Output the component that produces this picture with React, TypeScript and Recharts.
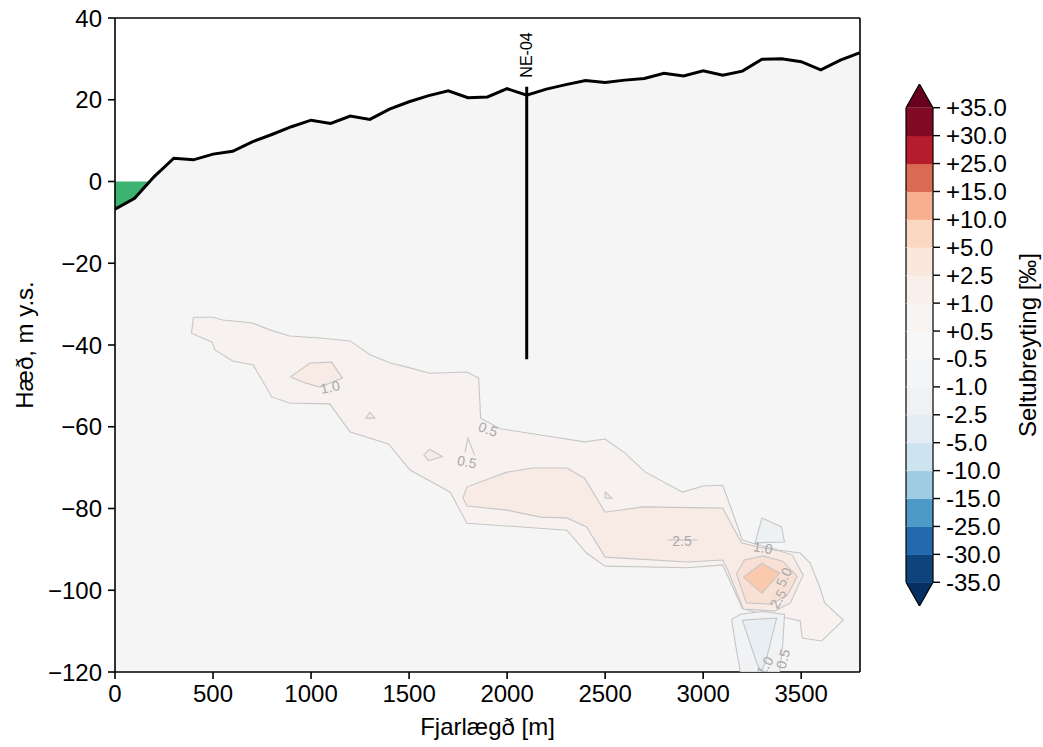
import {
  Area,
  Bar,
  BarChart,
  ComposedChart,
  Line,
  ReferenceLine,
  Scatter,
  XAxis,
  YAxis,
} from "recharts";

const FONT = '"Liberation Sans", Arial, Helvetica, sans-serif';
const FS = 24;

// ground profile along the section, every 100 m
const profileDist = [
  0, 100, 200, 300, 400, 500, 600, 700, 800, 900, 1000, 1100, 1200, 1300,
  1400, 1500, 1600, 1700, 1800, 1900, 2000, 2100, 2200, 2300, 2400, 2500,
  2600, 2700, 2800, 2900, 3000, 3100, 3200, 3300, 3400, 3500, 3600, 3700,
  3800,
];
const profileElev = [
  -6.8, -4.1, 1.2, 5.7, 5.3, 6.7, 7.4, 9.7, 11.5, 13.4, 15.0, 14.2, 16.0,
  15.2, 17.7, 19.5, 21.0, 22.2, 20.5, 20.7, 22.7, 21.1, 22.6, 23.7, 24.7,
  24.2, 24.8, 25.2, 26.5, 25.8, 27.1, 26.0, 27.0, 29.9, 30.0, 29.3, 27.3,
  29.7, 31.5,
];

// sea below zero at the start of the line
const seaDist = [0, 100, 177];
const seaFloor = [-6.8, -4.1, 0];
const seaLevel = 0;

// borehole
const wellName = "NE-04";
const wellX = 2100;
const wellTop = 23.2;
const wellBottom = -43.5;

const xDomain = [0, 3800];
const yDomain = [-120, 40];
const xTicks = [0, 500, 1000, 1500, 2000, 2500, 3000, 3500];
const yTicks = [-120, -100, -80, -60, -40, -20, 0, 20, 40];

// salinity change contours [x m, z m]
const pos05 = [
  [400, -33.2], [500, -33.2], [550, -33.9], [700, -34.6], [790, -36.3],
  [890, -37.8], [1045, -38.3], [1200, -39.0], [1300, -42.4], [1405, -44.4],
  [1505, -45.6], [1605, -46.9], [1795, -46.6], [1855, -48.1], [1865, -57.9],
  [1965, -60.5], [2170, -62.0], [2395, -63.7], [2500, -63.0], [2600, -66.4],
  [2705, -71.1], [2895, -76.0], [3000, -74.5], [3100, -74.3], [3200, -87.7],
  [3265, -88.7], [3390, -90.2], [3495, -90.9], [3545, -93.3], [3595, -99.2],
  [3620, -103.1], [3715, -107.3], [3605, -112.4], [3505, -111.7],
  [3495, -107.5], [3430, -106.8], [3315, -106.0], [3200, -104.5],
  [3100, -93.8], [2920, -94.5], [2500, -94.1], [2405, -90.9], [2305, -85.3],
  [1795, -83.6], [1710, -76.0], [1505, -70.6], [1395, -64.2], [1200, -61.3],
  [1095, -54.4], [890, -54.2], [800, -52.7], [705, -44.9], [600, -43.9],
  [510, -41.2], [495, -39.3], [390, -37.1],
];
const pos10Band = [
  [1775, -77.4], [1795, -74.7], [2000, -71.1], [2130, -70.1], [2305, -70.1],
  [2395, -72.6], [2500, -80.9], [2695, -79.6], [3100, -79.9], [3195, -88.4],
  [3280, -89.4], [3390, -90.4], [3455, -91.4], [3510, -96.3], [3445, -103.1],
  [3365, -105.1], [3205, -104.6], [3125, -95.0], [3100, -92.6], [2920, -93.1],
  [2500, -91.9], [2405, -84.5], [2305, -82.3], [2170, -82.1], [2000, -80.4],
  [1795, -79.4],
];
const pos10Blob = [
  [895, -47.8], [995, -44.4], [1105, -44.2], [1160, -48.1], [1045, -50.3],
  [960, -49.1],
];
const pos10Bits = [
  [[1300, -56.4], [1280, -57.9], [1325, -57.9]],
  [[1575, -66.9], [1605, -65.5], [1670, -67.3], [1600, -68.3]],
  [[2500, -75.9], [2535, -77.5], [2500, -77.4]],
];
const pos25 = [
  [3170, -96.0], [3210, -92.6], [3305, -91.6], [3405, -92.9], [3480, -96.6],
  [3430, -101.2], [3345, -103.4], [3220, -103.1],
];
const pos50 = [[3205, -96.8], [3300, -93.4], [3390, -95.8], [3300, -100.7]];
const neg05 = [
  [3145, -107.1], [3195, -105.8], [3305, -105.2], [3415, -105.9],
  [3405, -113.8], [3390, -120], [3190, -120], [3170, -114.7],
];
const neg10 = [
  [3200, -107.3], [3375, -106.8], [3320, -117.3], [3295, -120],
  [3275, -118.0],
];
const negTri = [[3300, -82.3], [3400, -84.5], [3415, -88.2], [3265, -88.4]];

// open contour pieces
const openLines = [
  [[1785, -66.2], [1800, -62.8], [1835, -67.0]],
  [[2820, -87.7], [2970, -87.7]],
];

const contourLabels = [
  { x: 1097, y: -50.3, text: "1.0", angle: -12 },
  { x: 1903, y: -60.6, text: "0.5", angle: 20 },
  { x: 1795, y: -68.6, text: "0.5", angle: 10 },
  { x: 2892, y: -87.9, text: "2.5", angle: 0 },
  { x: 3305, y: -89.6, text: "1.0", angle: 10 },
  { x: 3412, y: -96.8, text: "5.0", angle: -65 },
  { x: 3382, y: -102.1, text: "2.5", angle: -60 },
  { x: 3407, y: -116.8, text: "0.5", angle: -75 },
  { x: 3315, y: -118.5, text: "1.0", angle: -60 },
];

// colorbar
const cbTicks = [
  "-35.0", "-30.0", "-25.0", "-15.0", "-10.0", "-5.0", "-2.5", "-1.0", "-0.5",
  "+0.5", "+1.0", "+2.5", "+5.0", "+10.0", "+15.0", "+25.0", "+30.0", "+35.0",
];
const cbColors = [
  "#0f437c", "#2369ae", "#4e9ac7", "#9fcce2", "#cde3ef", "#e3edf3",
  "#eef2f5", "#f3f5f6", "#f7f7f7", "#f8f4f2", "#f9f0eb", "#fae8dd",
  "#fcd7c2", "#f6b090", "#da6a54", "#b51d2d", "#820923",
];
const cbUnder = "#053061";
const cbOver = "#67001f";
const cbExtend = 0.85;

type Pt = { x: number; y: number };
const toPts = (a: number[][]): Pt[] => a.map(([x, y]) => ({ x, y }));
const closed = (a: number[][]): Pt[] => toPts([...a, a[0]]);

const ground = profileDist.map((x, i) => ({ x, y: profileElev[i] }));
const sea = seaDist.map((x, i) => ({ x, y: seaFloor[i], top: seaLevel }));
const well = [
  { x: wellX, y: wellTop },
  { x: wellX, y: wellBottom },
];
const wellHead = [{ x: wellX, y: wellTop, text: wellName }];

const EDGE = "#c6c6c6";
const patches: { pts: number[][]; fill: string }[] = [
  { pts: pos05, fill: "#f7f2f0" },
  { pts: pos10Blob, fill: "#f8ebe6" },
  ...pos10Bits.map((pts) => ({ pts, fill: "#f8ebe6" })),
  { pts: pos10Band, fill: "#f8ebe6" },
  { pts: pos25, fill: "#f9e0d4" },
  { pts: pos50, fill: "#fbc9ad" },
  { pts: neg05, fill: "#f0f2f4" },
  { pts: neg10, fill: "#e8eef3" },
  { pts: negTri, fill: "#eef1f4" },
];

const NoDot = () => <g />;

const ContourLabel = (p: any) => (
  <text
    x={p.cx}
    y={p.cy}
    transform={`rotate(${p.payload.angle} ${p.cx} ${p.cy})`}
    textAnchor="middle"
    dominantBaseline="central"
    fontSize={14}
    fill="#a9a9a9"
  >
    {p.payload.text}
  </text>
);

const WellLabel = (p: any) => (
  <text
    x={p.cx}
    y={p.cy - 9}
    transform={`rotate(-90 ${p.cx} ${p.cy - 9})`}
    textAnchor="start"
    dominantBaseline="central"
    fontSize={16}
    fill="#000"
  >
    {p.payload.text}
  </text>
);

const minus = (v: number) => (v < 0 ? `\u2212${-v}` : `${v}`);

const span = (p: any) => {
  const top = Math.min(p.y, p.y + p.height);
  const h = Math.abs(p.height);
  return { top, h, bottom: top + h };
};

const CbSegment = (p: any) => {
  const { top, h, bottom } = span(p);
  return (
    <g>
      <rect x={p.x} y={top} width={p.width} height={h + 0.5} fill={p.fill} />
      <line x1={p.x} y1={top} x2={p.x} y2={bottom} stroke="#000" strokeWidth={1.2} />
      <line
        x1={p.x + p.width}
        y1={top}
        x2={p.x + p.width}
        y2={bottom}
        stroke="#000"
        strokeWidth={1.2}
      />
    </g>
  );
};

const CbOver = (p: any) => {
  const { top, bottom } = span(p);
  const pts = `${p.x},${bottom} ${p.x + p.width / 2},${top} ${p.x + p.width},${bottom}`;
  return (
    <g>
      <polygon points={pts} fill={p.fill} />
      <polyline points={pts} fill="none" stroke="#000" strokeWidth={1.2} />
    </g>
  );
};

const CbUnder = (p: any) => {
  const { top, bottom } = span(p);
  const pts = `${p.x},${top} ${p.x + p.width / 2},${bottom} ${p.x + p.width},${top}`;
  return (
    <g>
      <polygon points={pts} fill={p.fill} />
      <polyline points={pts} fill="none" stroke="#000" strokeWidth={1.2} />
    </g>
  );
};

const cbRow: Record<string, number | string> = {
  k: "cb",
  under: -cbExtend,
  over: cbExtend,
};
cbColors.forEach((_, i) => {
  cbRow[`s${i}`] = 1;
});

const axisStroke = { stroke: "#000", strokeWidth: 1.6 };

function Section() {
  return (
    <ComposedChart
      width={880}
      height={747}
      margin={{ top: 18, right: 20, bottom: 0, left: 0 }}
    >
      <XAxis
        dataKey="x"
        type="number"
        domain={xDomain}
        ticks={xTicks}
        allowDataOverflow
        height={75}
        tickSize={7}
        tickMargin={6}
        tick={{ fill: "#000", fontSize: FS }}
        axisLine={axisStroke}
        tickLine={axisStroke}
        label={{
          value: "Fjarlægð [m]",
          position: "insideBottom",
          offset: 12,
          fill: "#000",
          fontSize: FS,
        }}
      />
      <YAxis
        dataKey="y"
        type="number"
        domain={yDomain}
        ticks={yTicks}
        allowDataOverflow
        width={115}
        tickSize={7}
        tickMargin={6}
        tickFormatter={minus}
        tick={{ fill: "#000", fontSize: FS }}
        axisLine={axisStroke}
        tickLine={axisStroke}
        label={{
          value: "Hæð, m y.s.",
          angle: -90,
          position: "insideLeft",
          offset: 24,
          fill: "#000",
          fontSize: FS,
          style: { textAnchor: "middle" },
        }}
      />

      <Area
        data={sea}
        dataKey={(d: any) => [d.y, d.top]}
        type="linear"
        fill="#3cb371"
        fillOpacity={1}
        stroke="none"
        isAnimationActive={false}
      />
      <Area
        data={ground}
        dataKey="y"
        baseValue={-120}
        type="linear"
        fill="#f5f5f5"
        fillOpacity={1}
        stroke="#000"
        strokeWidth={3}
        isAnimationActive={false}
      />

      {patches.map((c, i) => (
        <Scatter
          key={`patch-${i}`}
          data={closed(c.pts)}
          shape={NoDot}
          line={{ fill: c.fill, stroke: EDGE, strokeWidth: 1.1 }}
          isAnimationActive={false}
        />
      ))}
      {openLines.map((l, i) => (
        <Scatter
          key={`open-${i}`}
          data={toPts(l)}
          shape={NoDot}
          line={{ fill: "none", stroke: EDGE, strokeWidth: 1.1 }}
          isAnimationActive={false}
        />
      ))}

      <Line
        data={well}
        dataKey="y"
        type="linear"
        stroke="#000"
        strokeWidth={3}
        dot={false}
        isAnimationActive={false}
      />
      <Scatter data={contourLabels} shape={ContourLabel} isAnimationActive={false} />
      <Scatter data={wellHead} shape={WellLabel} isAnimationActive={false} />

      {/* top and right spines */}
      <ReferenceLine y={yDomain[1]} stroke="#000" strokeWidth={1.6} ifOverflow="visible" />
      <ReferenceLine x={xDomain[1]} stroke="#000" strokeWidth={1.6} ifOverflow="visible" />
    </ComposedChart>
  );
}

function Colorbar() {
  return (
    <BarChart
      width={163}
      height={747}
      data={[cbRow]}
      stackOffset="sign"
      barCategoryGap={0}
      barGap={0}
      margin={{ top: 84, right: 0, bottom: 141, left: 26 }}
    >
      <XAxis dataKey="k" hide />
      <YAxis
        orientation="right"
        type="number"
        domain={[-cbExtend, cbTicks.length - 1 + cbExtend]}
        ticks={cbTicks.map((_, i) => i)}
        interval={0}
        allowDataOverflow
        width={110}
        tickSize={7}
        tickMargin={6}
        tickFormatter={(i: number) => cbTicks[i]}
        tick={{ fill: "#000", fontSize: FS }}
        axisLine={false}
        tickLine={{ stroke: "#000", strokeWidth: 1.4 }}
        label={{
          value: "Seltubreyting [‰]",
          angle: -90,
          position: "insideRight",
          offset: 16,
          fill: "#000",
          fontSize: FS,
          style: { textAnchor: "middle" },
        }}
      />
      <Bar
        dataKey="under"
        stackId="cb"
        fill={cbUnder}
        shape={CbUnder}
        isAnimationActive={false}
      />
      {cbColors.map((c, i) => (
        <Bar
          key={`seg-${i}`}
          dataKey={`s${i}`}
          stackId="cb"
          fill={c}
          shape={CbSegment}
          isAnimationActive={false}
        />
      ))}
      <Bar
        dataKey="over"
        stackId="cb"
        fill={cbOver}
        shape={CbOver}
        isAnimationActive={false}
      />
    </BarChart>
  );
}

export default function App() {
  return (
    <div
      style={{
        position: "absolute",
        left: 0,
        top: 0,
        width: 1043,
        height: 747,
        background: "#fff",
        fontFamily: FONT,
      }}
    >
      <div style={{ position: "absolute", left: 0, top: 0 }}>
        <Section />
      </div>
      <div style={{ position: "absolute", left: 880, top: 0 }}>
        <Colorbar />
      </div>
    </div>
  );
}
